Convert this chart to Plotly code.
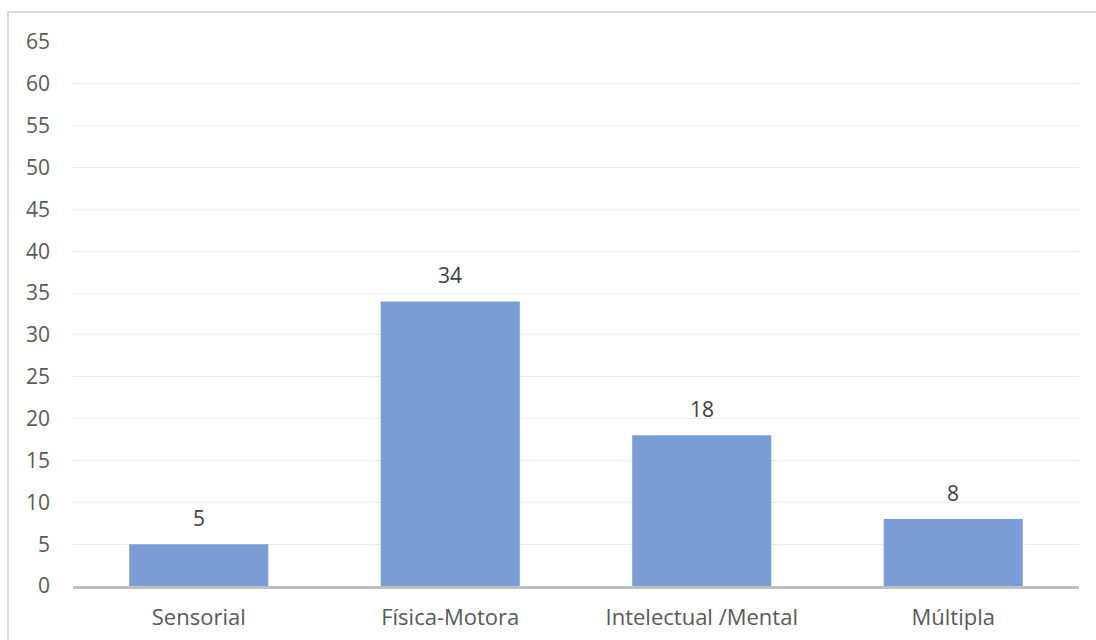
import plotly.graph_objects as go

categories = ["Sensorial", "Física-Motora", "Intelectual /Mental", "Múltipla"]
values = [5, 34, 18, 8]
y_ticks = list(range(0, 70, 5))

W, H = 1096, 640
L, R, T, B = 73, 17, 42, 54
pw, ph = W - L - R, H - T - B

fig = go.Figure(go.Bar(
    x=categories, y=values,
    marker=dict(color="rgb(122,157,214)", line=dict(width=0)),
    width=0.553,
))

for c, v in zip(categories, values):
    fig.add_annotation(x=c, y=v, text=str(v), showarrow=False,
                       yanchor="bottom", yshift=10,
                       font=dict(size=21, color="#404040", family="Open Sans"))

fig.update_layout(
    width=W, height=H,
    margin=dict(l=L, r=R, t=T, b=B, autoexpand=False),
    paper_bgcolor="white", plot_bgcolor="white",
    font=dict(family="Open Sans", size=21, color="#595959"),
    showlegend=False,
    xaxis=dict(showgrid=False, showline=True, linecolor="#BFBFBF", linewidth=3,
               ticks="", ticklabelstandoff=10, automargin=False,
               tickfont=dict(size=22, color="#595959")),
    yaxis=dict(range=[0, 65], tickvals=y_ticks, showgrid=True, gridcolor="#EBEBEB",
               gridwidth=1, zeroline=False, showline=False, ticks="", automargin=False,
               ticklabelstandoff=22, tickfont=dict(size=21, color="#595959")),
    shapes=[dict(type="rect", xref="paper", yref="paper",
                 x0=(8 - L) / pw, x1=(W + 10 - L) / pw,
                 y0=-(H + 10 - T - ph) / ph, y1=(H - B - 12) / ph,
                 line=dict(color="#D9D9D9", width=2), fillcolor="rgba(0,0,0,0)", layer="below")],
)

fig.write_html("out.html")
